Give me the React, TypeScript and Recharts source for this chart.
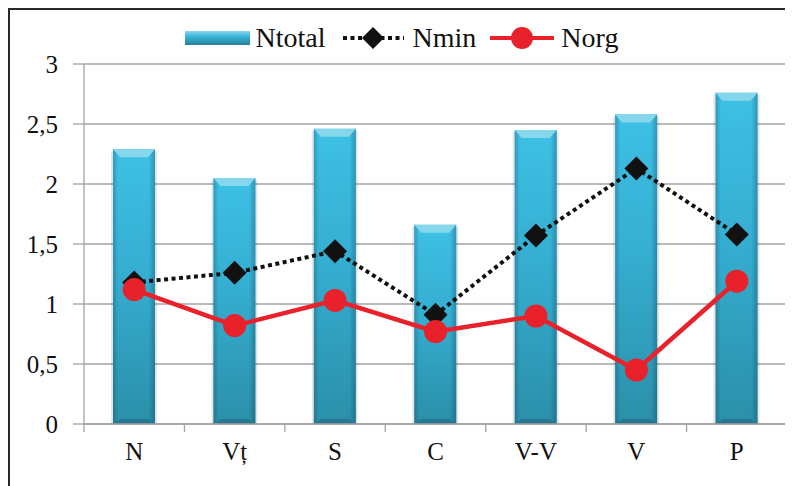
import React from "react";
import {
  Bar,
  CartesianGrid,
  ComposedChart,
  Legend,
  Line,
  XAxis,
  YAxis,
} from "recharts";

const categories = ["N", "Vț", "S", "C", "V-V", "V", "P"];
const ntotal = [2.29, 2.05, 2.46, 1.66, 2.45, 2.58, 2.76];
const nmin = [1.18, 1.26, 1.44, 0.91, 1.57, 2.13, 1.58];
const norg = [1.12, 0.82, 1.03, 0.77, 0.9, 0.45, 1.19];
const yTicks = [0, 0.5, 1, 1.5, 2, 2.5, 3];

const data = categories.map((name, i) => ({
  name,
  ntotal: ntotal[i],
  nmin: nmin[i],
  norg: norg[i],
}));

const FONT = "Liberation Serif, Times New Roman, serif";
const AXIS_GRAY = "#a3a3a3";
const RED = "#e8212a";
const X_TICK_SIZE = 8;
const X_TICK_MARGIN = 10;

const fmt = (v: number) => String(v).replace(".", ",");

// bevelled bar, similar to the office preset
function BevelBar(props: any) {
  const { x, y, width, height } = props;
  if (!height || height <= 0) return null;
  const b = 7;
  return (
    <g>
      <rect x={x - 2} y={y + 2} width={width + 4} height={height - 2} fill="rgba(0,0,0,0.10)" />
      <rect x={x} y={y} width={width} height={height} fill="url(#barBody)" />
      <rect x={x} y={y} width={width} height={height} fill="url(#barSides)" />
      <polygon
        points={`${x},${y} ${x + width},${y} ${x + width - b},${y + b + 1} ${x + b},${y + b + 1}`}
        fill="#86d6ec"
      />
      <polygon
        points={`${x + b},${y + height - 5} ${x + width - b},${y + height - 5} ${x + width},${y + height} ${x},${y + height}`}
        fill="#25788f"
      />
    </g>
  );
}

function Diamond(props: any) {
  const { cx, cy } = props;
  if (cx == null || cy == null) return null;
  const r = 12;
  return (
    <polygon
      points={`${cx},${cy - r} ${cx + r},${cy} ${cx},${cy + r} ${cx - r},${cy}`}
      fill="#111"
    />
  );
}

function RedDot(props: any) {
  const { cx, cy } = props;
  if (cx == null || cy == null) return null;
  return <circle cx={cx} cy={cy} r={11.5} fill={RED} />;
}

function NumberTick(props: any) {
  const { x, y, payload } = props;
  return (
    <text x={x} y={y} dy="0.36em" textAnchor="end" fill="#111" fontSize={25} style={{ fontFamily: FONT }}>
      {fmt(payload.value)}
    </text>
  );
}

function CategoryTick(props: any) {
  const { x, y, payload, index, visibleTicksCount } = props;
  const half = payload && payload.offset ? payload.offset : 50;
  const axisY = y - X_TICK_SIZE - X_TICK_MARGIN;
  const last = index === (visibleTicksCount ?? categories.length) - 1;
  return (
    <g>
      <line x1={x - half} x2={x - half} y1={axisY} y2={axisY + X_TICK_SIZE} stroke={AXIS_GRAY} strokeWidth={1.3} />
      {last && (
        <line x1={x + half} x2={x + half} y1={axisY} y2={axisY + X_TICK_SIZE} stroke={AXIS_GRAY} strokeWidth={1.3} />
      )}
      <text x={x} y={y} dy="0.71em" textAnchor="middle" fill="#111" fontSize={25} style={{ fontFamily: FONT }}>
        {payload.value}
      </text>
    </g>
  );
}

function LegendContent() {
  const txt: React.CSSProperties = { fontFamily: FONT, fontSize: 28, color: "#111", lineHeight: "30px" };
  return (
    <div style={{ display: "flex", justifyContent: "center", alignItems: "center", height: 30 }}>
      <svg width={65} height={14} style={{ marginRight: 6 }}>
        <defs>
          <linearGradient id="legSwatch" x1="0" y1="0" x2="0" y2="1">
            <stop offset="0%" stopColor="#8fd9ee" />
            <stop offset="35%" stopColor="#3cb9dc" />
            <stop offset="100%" stopColor="#26819a" />
          </linearGradient>
        </defs>
        <rect x={0} y={0} width={65} height={14} fill="url(#legSwatch)" />
      </svg>
      <span style={{ ...txt, marginRight: 15 }}>Ntotal</span>
      <svg width={65} height={26} style={{ marginRight: 7 }}>
        <line x1={2} x2={63} y1={13} y2={13} stroke="#111" strokeWidth={4} strokeDasharray="4 3.5" />
        <polygon points="32,2 43,13 32,24 21,13" fill="#111" />
      </svg>
      <span style={{ ...txt, marginRight: 14 }}>Nmin</span>
      <svg width={64} height={26} style={{ marginRight: 7 }}>
        <line x1={0} x2={64} y1={13} y2={13} stroke={RED} strokeWidth={4} />
        <circle cx={32} cy={13} r={11} fill={RED} />
      </svg>
      <span style={txt}>Norg</span>
    </div>
  );
}

export default function App() {
  return (
    <div
      style={{
        position: "relative",
        width: 783,
        height: 476,
        borderTop: "2px solid #2a2a2a",
        borderLeft: "2px solid #2a2a2a",
        background: "#fff",
        overflow: "hidden",
      }}
    >
      <style>{"html,body{overflow:hidden}"}</style>
      <ComposedChart
        width={783}
        height={466}
        data={data}
        margin={{ top: 24, right: 6, bottom: 0, left: 0 }}
      >
        <defs>
          <linearGradient id="barBody" x1="0" y1="0" x2="0" y2="1">
            <stop offset="0%" stopColor="#3ec0e5" />
            <stop offset="45%" stopColor="#35aed1" />
            <stop offset="100%" stopColor="#2b8fa9" />
          </linearGradient>
          <linearGradient id="barSides" x1="0" y1="0" x2="1" y2="0">
            <stop offset="0%" stopColor="rgba(0,40,60,0.25)" />
            <stop offset="12%" stopColor="rgba(0,40,60,0)" />
            <stop offset="85%" stopColor="rgba(0,40,60,0)" />
            <stop offset="100%" stopColor="rgba(0,40,60,0.28)" />
          </linearGradient>
        </defs>
        <CartesianGrid vertical={false} stroke={AXIS_GRAY} strokeWidth={1.3} />
        <XAxis
          dataKey="name"
          height={52}
          tickLine={false}
          tickSize={X_TICK_SIZE}
          tickMargin={X_TICK_MARGIN}
          axisLine={{ stroke: AXIS_GRAY, strokeWidth: 1.3 }}
          tick={<CategoryTick />}
          interval={0}
        />
        <YAxis
          width={74}
          domain={[0, 3]}
          ticks={yTicks}
          tickSize={11}
          tickMargin={15}
          axisLine={{ stroke: AXIS_GRAY, strokeWidth: 1.3 }}
          tickLine={{ stroke: AXIS_GRAY, strokeWidth: 1.3 }}
          tick={<NumberTick />}
        />
        <Legend
          verticalAlign="top"
          height={30}
          content={<LegendContent />}
          wrapperStyle={{ top: 13, left: 0, width: 783 }}
        />
        <Bar dataKey="ntotal" barSize={42} shape={<BevelBar />} isAnimationActive={false} />
        <Line
          dataKey="nmin"
          stroke="#111"
          strokeWidth={4}
          strokeDasharray="4 3.5"
          dot={<Diamond />}
          activeDot={false}
          isAnimationActive={false}
        />
        <Line
          dataKey="norg"
          stroke={RED}
          strokeWidth={4.5}
          dot={<RedDot />}
          activeDot={false}
          isAnimationActive={false}
        />
      </ComposedChart>
    </div>
  );
}
